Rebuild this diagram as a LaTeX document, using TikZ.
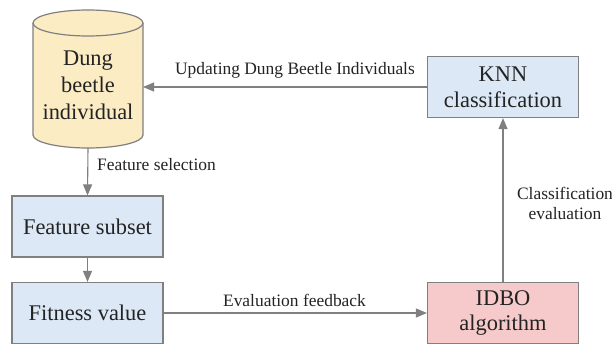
\documentclass[tikz,border=0pt]{standalone}
\usepackage{fontspec}
\setmainfont{Liberation Serif}
\usepackage{xcolor}
\usetikzlibrary{arrows.meta}

\definecolor{boxblue}{RGB}{220,232,246}
\definecolor{boxpink}{RGB}{246,202,202}
\definecolor{boxyellow}{RGB}{251,236,196}
\definecolor{edgegray}{RGB}{128,128,128}
\definecolor{txt}{RGB}{35,35,35}

\begin{document}
\begin{tikzpicture}[x=1bp,y=1bp,>={Triangle[length=11bp,width=9bp]},
  box/.style={draw=edgegray,line width=1.2bp,fill=boxblue,text=txt,align=center,
    minimum width=151bp,minimum height=61bp,inner sep=0pt,font=\fontsize{22.5}{26}\selectfont},
  cyl/.style={draw=edgegray,line width=1.2bp},
  flow/.style={->,draw=edgegray,line width=1.1bp},
  lbl/.style={text=txt,font=\fontsize{17.5}{20}\selectfont,inner sep=0pt,align=center}]
  \useasboundingbox (0,0) rectangle (612,346);
  % cylinder
  \filldraw[cyl,fill=boxyellow] (33,323) -- (33,211) arc[start angle=180,end angle=360,x radius=55,y radius=13]
    -- (143,323) arc[start angle=0,end angle=180,x radius=55,y radius=13] -- cycle;
  \draw[cyl] (33,323) arc[start angle=180,end angle=360,x radius=55,y radius=13];
  \coordinate (cylbot) at (88,198);
  \coordinate (cylside) at (143,259);
  \node[text=txt,align=center,inner sep=0pt,font=\fontsize{22.5}{27}\selectfont] (beetle) at (88,261) {Dung\\beetle\\individual};
  \node[box] (subset) at (87.5,119.5) {Feature subset};
  \node[box] (fitness) at (87.5,33) {Fitness value};
  \node[box] (knn) at (503,259) {KNN\\classification};
  \node[box,fill=boxpink] (idbo) at (503,33) {IDBO\\algorithm};
  \draw[flow] (knn.west) -- (cylside);
  \node[lbl] (upd) at (295,276) {Updating Dung Beetle Individuals};
  \draw[flow] (cylbot) -- (subset.north);
  \node[lbl,anchor=west] (sel) at (97,181) {Feature selection};
  \draw[flow] (subset.south) -- (fitness.north);
  \draw[flow] (fitness.east) -- (idbo.west);
  \node[lbl] (feed) at (294.5,46) {Evaluation feedback};
  \draw[flow] (idbo.north) -- (knn.south);
  \node[lbl] (cls) at (565,143) {Classification\\evaluation};
\end{tikzpicture}
\end{document}
